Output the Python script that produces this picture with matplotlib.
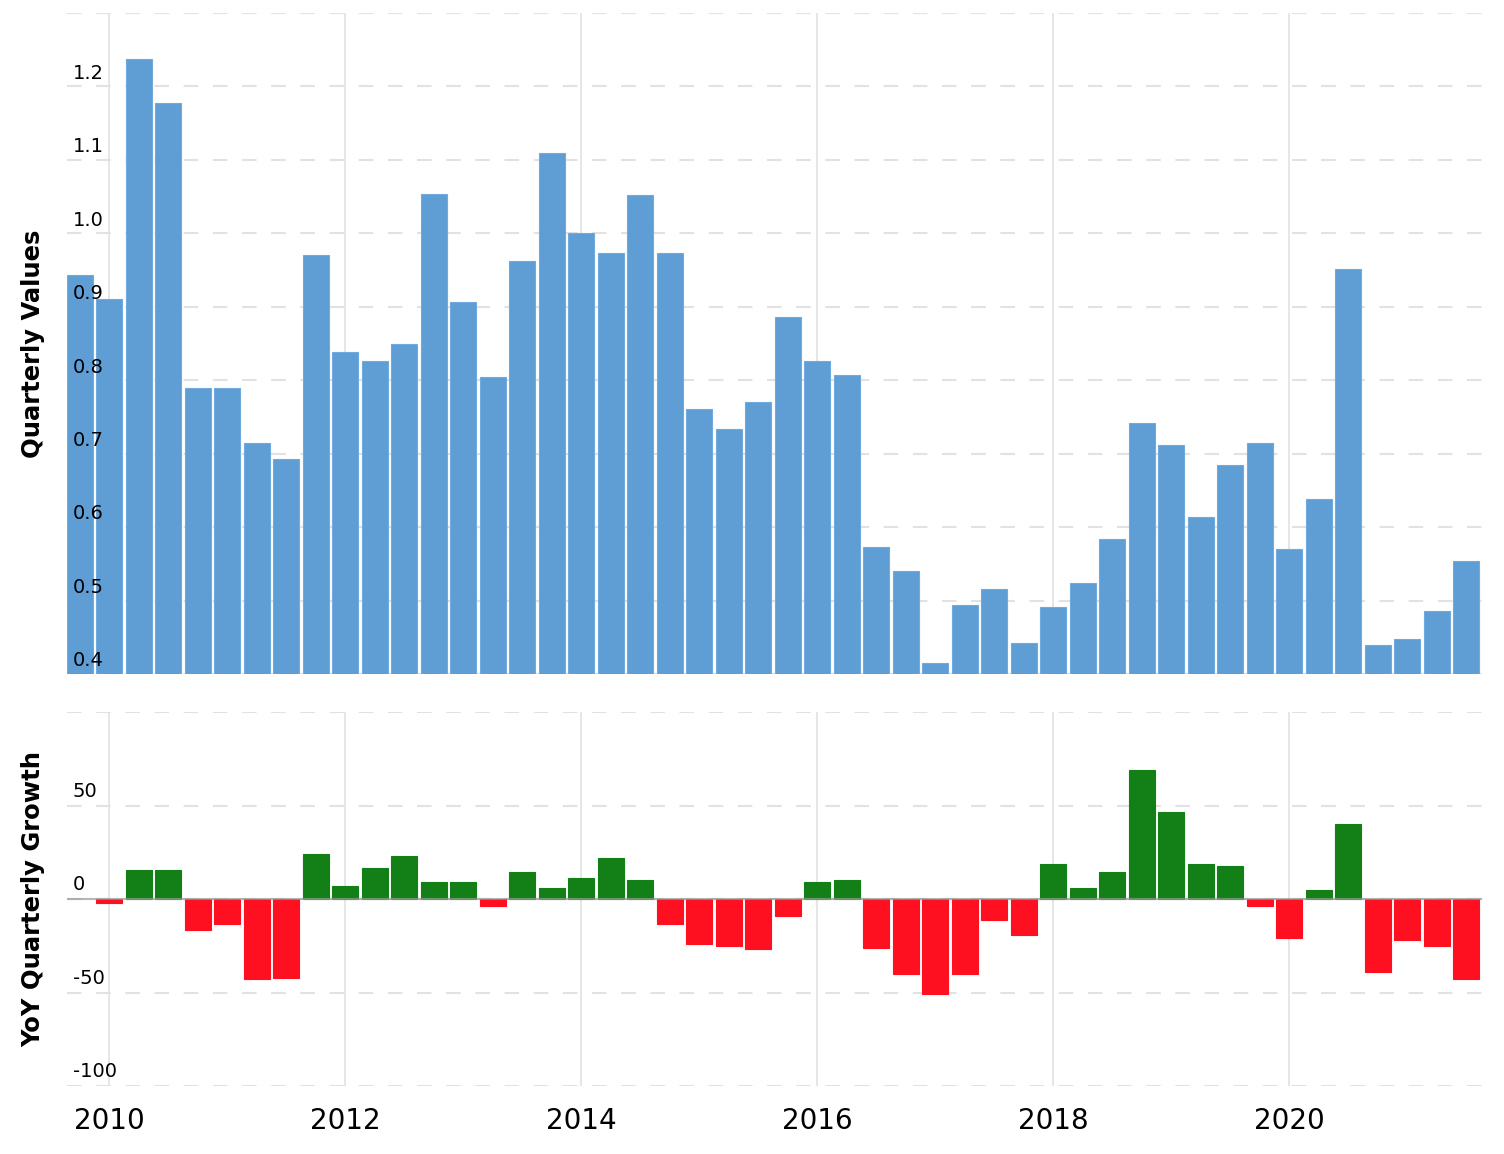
import numpy as np
import matplotlib
matplotlib.use("Agg")
import matplotlib.pyplot as plt
import matplotlib.transforms as mtransforms

# quarterly values, Q3 2009 .. Q2 2021
values = [0.943, 0.910, 1.237, 1.178, 0.790, 0.790, 0.714, 0.693,
          0.970, 0.839, 0.826, 0.850, 1.054, 0.907, 0.804, 0.962,
          1.109, 1.000, 0.973, 1.052, 0.973, 0.761, 0.733, 0.771,
          0.886, 0.826, 0.807, 0.573, 0.540, 0.415, 0.494, 0.516,
          0.442, 0.491, 0.524, 0.584, 0.742, 0.712, 0.614, 0.684,
          0.714, 0.570, 0.638, 0.951, 0.439, 0.448, 0.486, 0.554]

# YoY growth (%), Q4 2009 .. Q2 2021
growth = [-2, 15.5, 15.5, -16.5, -13.4, -43, -42, 24,
          7, 16.6, 23, 9, 9, -3.7, 14.4, 5.9,
          11.2, 22, 10, -13.4, -24, -25, -27, -9,
          9, 10, -26, -40, -51, -40, -11, -19,
          18.7, 5.9, 14.4, 69, 46.5, 18.7, 17.6, -3.7,
          -21, 4.8, 40, -39, -22, -25, -43]

top_ticks = [0.4, 0.5, 0.6, 0.7, 0.8, 0.9, 1.0, 1.1, 1.2, 1.3]
top_labels = ["0.4", "0.5", "0.6", "0.7", "0.8", "0.9", "1.0", "1.1", "1.2", ""]
bot_ticks = [-100, -50, 0, 50, 100]
bot_labels = ["-100", "-50", "0", "50", ""]
year_ticks = [2010, 2012, 2014, 2016, 2018, 2020]

x_val = 2009.75 + 0.25 * np.arange(len(values))
x_gr = x_val[1:]

BLUE = "#5f9dd5"
GREEN = "#128017"
RED = "#fe1020"
GRID = "#e2e2e2"

fig = plt.figure(figsize=(15.04, 11.54), dpi=100)
ax1 = fig.add_axes([67/1504, 1-674/1154, 1415/1504, 661/1154])
ax2 = fig.add_axes([67/1504, 1-1086/1154, 1415/1504, 374/1154])

for ax in (ax1, ax2):
    for s in ax.spines.values():
        s.set_visible(False)
    ax.set_xlim(2009.64, 2021.635)
    ax.set_xticks(year_ticks)
    ax.tick_params(length=0)
    ax.set_yticklabels([])
    for yr in year_ticks:
        ax.axvline(yr, color=GRID, lw=1.2, zorder=0)

# top panel
ax1.bar(x_val, np.array(values) - 0.4, bottom=0.4, width=0.22, color=BLUE,
        edgecolor="#70aade", linewidth=0.8, zorder=2)
ax1.set_ylim(0.4, 1.3)
ax1.set_yticks(top_ticks)
ax1.set_xticklabels([])
for t in top_ticks:
    ax1.axhline(t, color=GRID, lw=1.5, dashes=(7, 7), zorder=1)
tr1 = mtransforms.blended_transform_factory(ax1.transAxes, ax1.transData)
for t, lab in zip(top_ticks, top_labels):
    if lab:
        ax1.text(0.004, t + 0.005, lab, transform=tr1, fontsize=14,
                 ha="left", va="bottom", zorder=4)
ax1.set_ylabel("Quarterly Values", fontsize=17.5, fontweight="bold")
ax1.yaxis.set_label_coords(-0.0155, 0.5)

# bottom panel
gcols = [GREEN if g >= 0 else RED for g in growth]
ax2.bar(x_gr, growth, width=0.22, color=gcols, edgecolor=gcols,
        linewidth=0.8, zorder=2)
ax2.set_ylim(-100, 100)
ax2.set_yticks(bot_ticks)
for t in bot_ticks:
    ax2.axhline(t, color=GRID, lw=1.5, dashes=(7, 7), zorder=1)
ax2.axhline(0, color="#999999", lw=1.5, alpha=0.7, zorder=3)
tr2 = mtransforms.blended_transform_factory(ax2.transAxes, ax2.transData)
for t, lab in zip(bot_ticks, bot_labels):
    if lab:
        ax2.text(0.004, t + 2.5, lab, transform=tr2, fontsize=14,
                 ha="left", va="bottom", zorder=4)
ax2.set_ylabel("YoY Quarterly Growth", fontsize=17.5, fontweight="bold")
ax2.yaxis.set_label_coords(-0.0155, 0.5)
ax2.set_xticklabels([str(y) for y in year_ticks], fontsize=20)
ax2.tick_params(axis="x", pad=15)

fig.savefig("out.png", dpi=100)
